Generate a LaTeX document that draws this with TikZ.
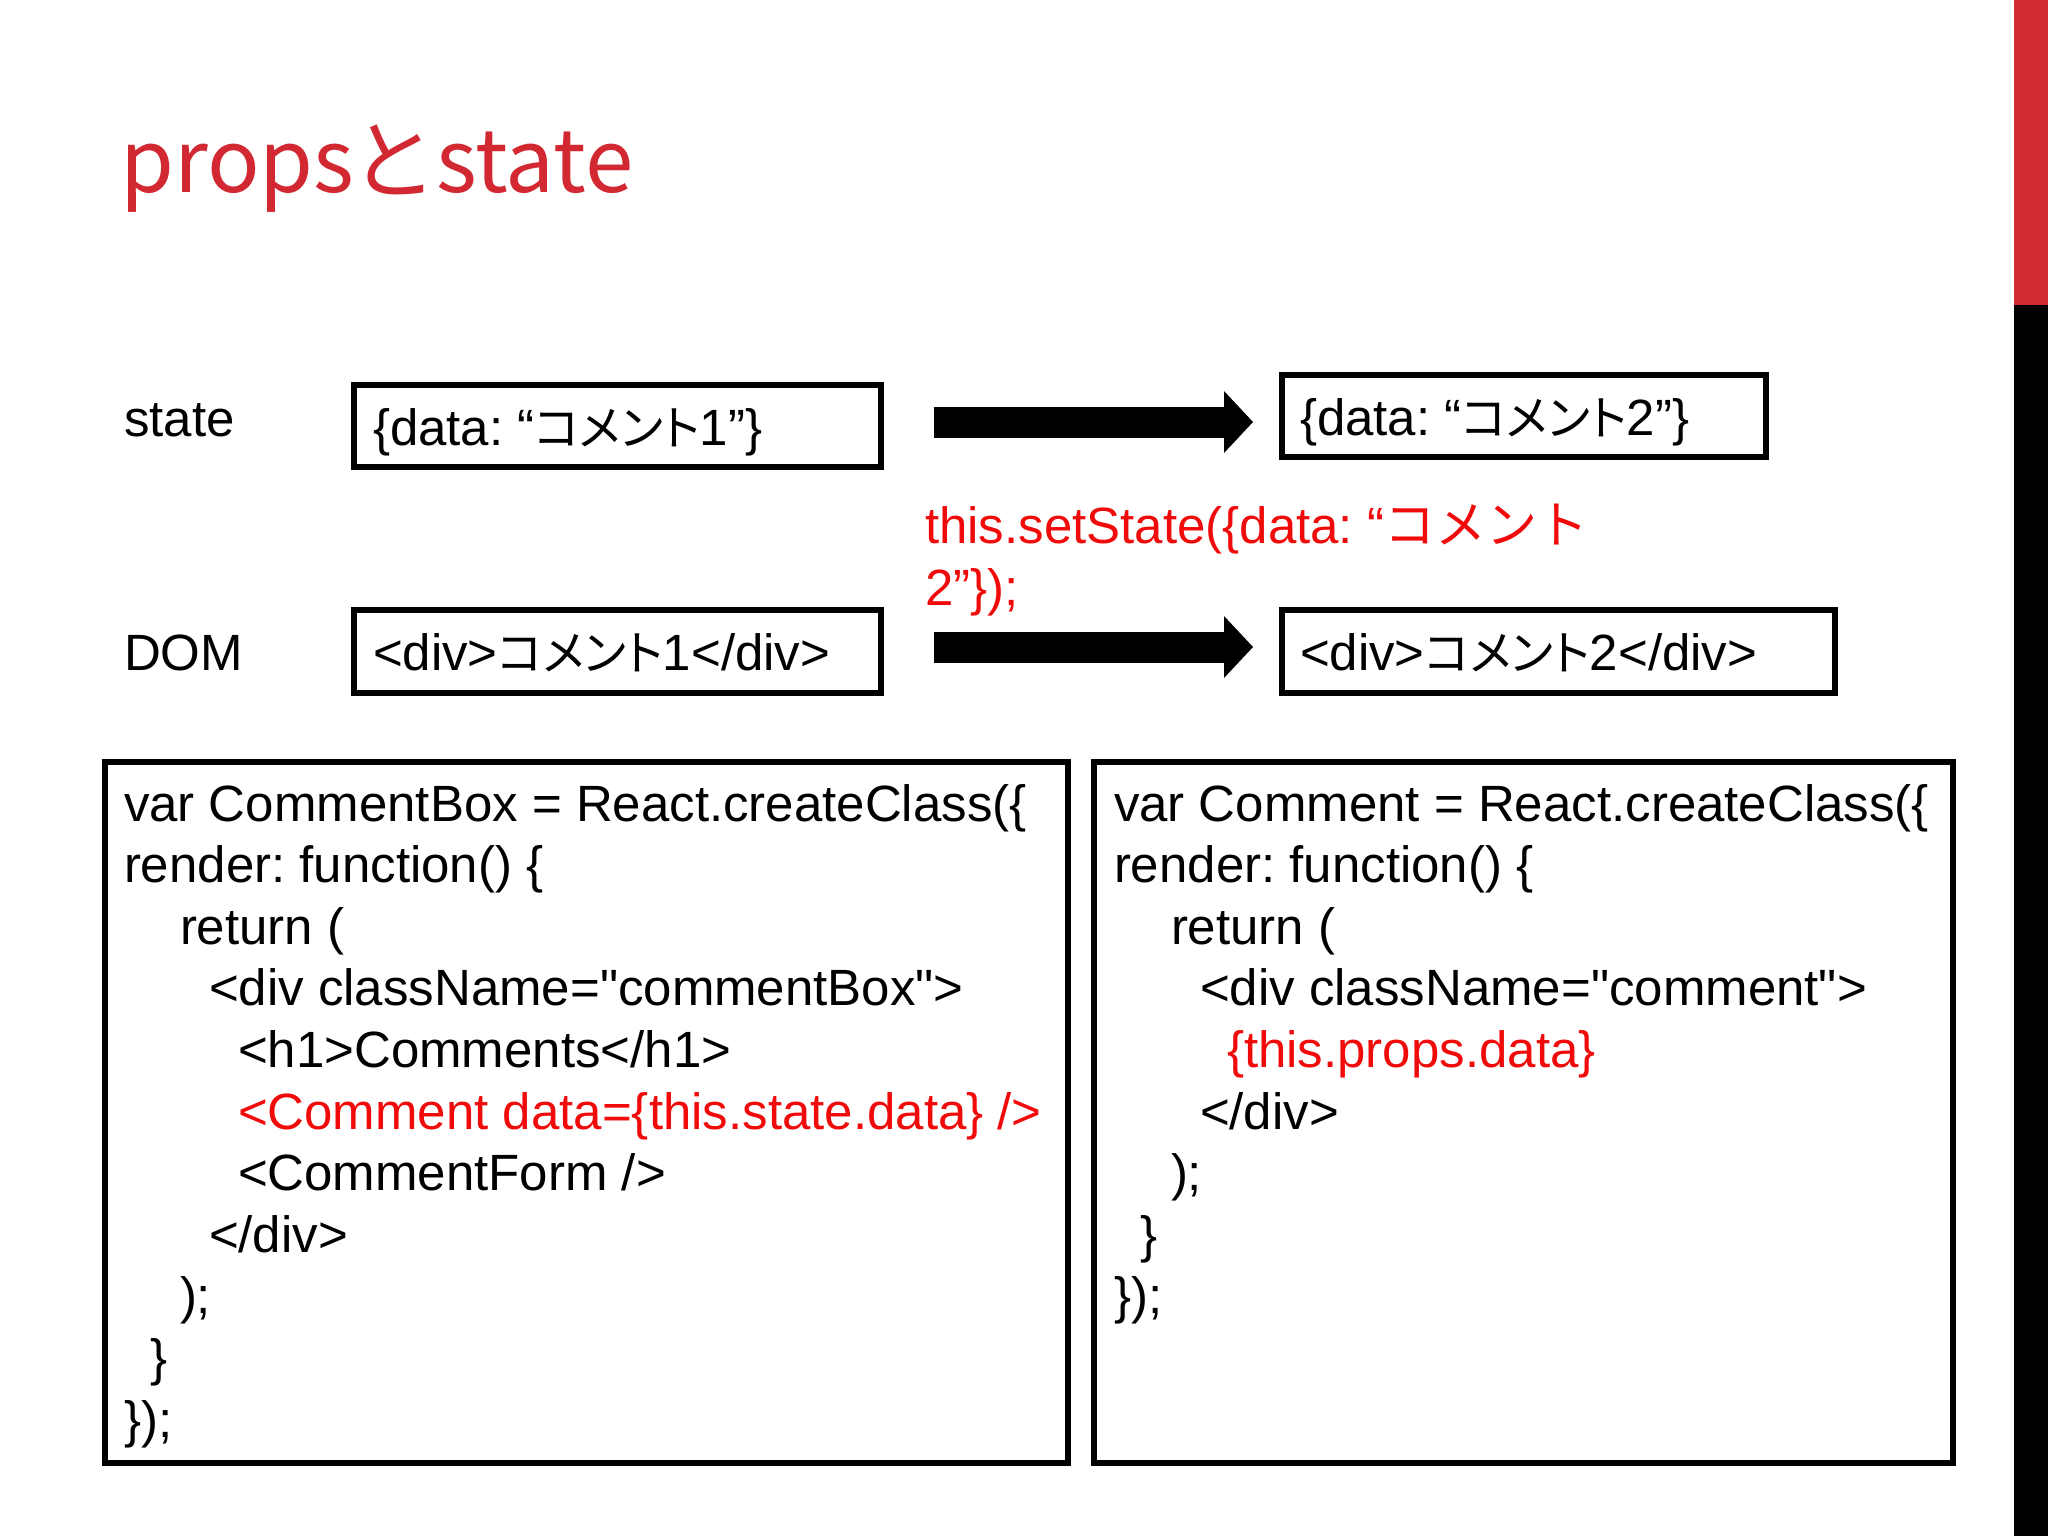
\documentclass[tikz,border=0pt]{standalone}
\usepackage{fontspec}
\setmainfont{Liberation Sans}[Ligatures=TeXOff]
\newfontfamily\cjk{Noto Sans CJK JP}
\newfontfamily\cjkp[RawFeature=+palt,Scale=0.93]{Noto Sans CJK JP}
\usetikzlibrary{arrows.meta}
\definecolor{titlered}{RGB}{210,40,50}
\definecolor{codered}{RGB}{240,10,10}
\definecolor{barred}{RGB}{212,42,52}
\frenchspacing
\begin{document}
\begin{tikzpicture}[x=1pt,y=-1pt,
  txt/.style={anchor=base west,inner sep=0pt,outer sep=0pt,font=\fontsize{51}{61}\selectfont},
  redtxt/.style={txt,text=codered},
  boxnode/.style={draw=black,line width=6pt,inner sep=0pt,outer sep=0pt,rectangle},
  bigarrow/.style={line width=31pt,-{Triangle[length=29pt,width=62pt,line width=0pt]}}
]
\useasboundingbox (0,0) rectangle (2048,1536);
\fill[white] (0,0) rectangle (2048,1536);
% side bar
\fill[barred] (2014,0) rectangle (2048,305);
\fill[black] (2014,305) rectangle (2048,1536);
% title
\node[anchor=base west,inner sep=0pt,text=titlered,font=\cjk\fontsize{87}{100}\selectfont] (title) at (120,193) {props\kern-4ptと\kern-1ptstate};
% row labels
\node[txt] (lstate) at (124,436) {state};
\node[txt] (ldom) at (124,670) {DOM};
% boxes
\node[boxnode,minimum width=527pt,minimum height=82pt] (s1) at (617.5,426) {};
\node[boxnode,minimum width=484pt,minimum height=82pt] (s2) at (1524,416) {};
\node[boxnode,minimum width=527pt,minimum height=83pt] (d1) at (617.5,651.5) {};
\node[boxnode,minimum width=553pt,minimum height=83pt] (d2) at (1558.5,651.5) {};
\node[txt] (s1t) at (373,445) {\{data: “{\cjkp コメント}1”\}};
\node[txt] (s2t) at (1300,435) {\{data: “{\cjkp コメント}2”\}};
\node[txt] (d1t) at (373,670) {<div>{\cjkp コメント}1</div>};
\node[txt] (d2t) at (1300,670) {<div>{\cjkp コメント}2</div>};
% arrows
\coordinate (a1s) at (934,422);
\coordinate (a1e) at (1253,422);
\coordinate (a2s) at (934,647);
\coordinate (a2e) at (1253,647);
\draw[bigarrow] (a1s) -- (a1e);
\draw[bigarrow] (a2s) -- (a2e);
% setState text
\node[redtxt] (set1) at (925,543) {this.setState(\{data: “{\cjk コメント}};
\node[redtxt] (set2) at (925,605) {2”\});};
% code boxes
\node[boxnode,minimum width=963pt,minimum height=701pt] (c1) at (586.5,1112.5) {};
\node[boxnode,minimum width=859pt,minimum height=701pt] (c2) at (1523.5,1112.5) {};
% left code
\node[txt] (l1) at (124,821) {var CommentBox = React.createClass(\{};
\node[txt] (l2) at (124,882.6) {render: function() \{};
\node[txt] (l3) at (180,944.2) {return (};
\node[txt] (l4) at (209,1005.8) {<div className="commentBox">};
\node[txt] (l5) at (238,1067.4) {<h1>Comments</h1>};
\node[redtxt] (l6) at (238,1129) {<Comment data=\{this.state.data\} />};
\node[txt] (l7) at (238,1190.6) {<CommentForm />};
\node[txt] (l8) at (209,1252.2) {</div>};
\node[txt] (l9) at (180,1313.8) {);};
\node[txt] (l10) at (150,1375.4) {\}};
\node[txt] (l11) at (124,1437) {\});};
% right code
\node[txt] (r1) at (1114,821) {var Comment = React.createClass(\{};
\node[txt] (r2) at (1114,882.6) {render: function() \{};
\node[txt] (r3) at (1171,944.2) {return (};
\node[txt] (r4) at (1200,1005.8) {<div className="comment">};
\node[redtxt] (r5) at (1227,1067.4) {\{this.props.data\}};
\node[txt] (r6) at (1200,1129) {</div>};
\node[txt] (r7) at (1171,1190.6) {);};
\node[txt] (r8) at (1140,1252.2) {\}};
\node[txt] (r9) at (1114,1313.8) {\});};
\end{tikzpicture}
\end{document}
